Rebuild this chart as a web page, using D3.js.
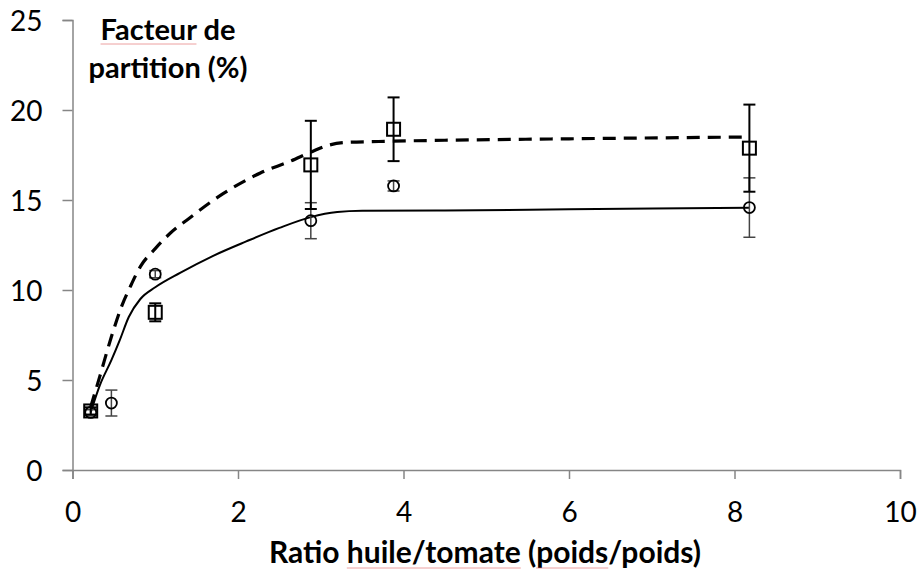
<!DOCTYPE html>
<html>
<head>
<meta charset="utf-8">
<script src="https://cdn.jsdelivr.net/npm/d3@7"></script>
<style>
  body { margin: 0; background: #fff; }
  svg text { font-family: Lato, "Liberation Sans", sans-serif; }
</style>
</head>
<body>
<div id="chart"></div>
<script>
// measured points
const xRatio = [0.22, 0.47, 1.0, 2.88, 3.88, 8.18];
const circleY = [3.2, 3.72, 10.88, 13.85, 15.78, 14.58];
const circleErr = [0.15, 0.72, 0.2, 1.0, 0.28, 1.65];
const squareX = [0.22, 1.0, 2.88, 3.88, 8.18];
const squareY = [3.28, 8.76, 16.95, 18.93, 17.88];
const squareErr = [0.2, 0.5, 2.45, 1.77, 2.42];

// fitted curves
const solidX = [0.22, 0.33, 0.47, 0.57, 0.68, 0.82, 1.0, 1.3, 1.7, 2.1, 2.5, 2.88, 3.2, 3.5, 4.5, 6, 8.18];
const solidY = [3.2, 4.7, 6.1, 7.2, 8.5, 9.5, 10.15, 10.95, 11.9, 12.7, 13.45, 14.05, 14.33, 14.4, 14.42, 14.48, 14.57];
const dashX = [0.22, 0.33, 0.47, 0.59, 0.7, 0.82, 1.0, 1.18, 1.4, 1.82, 2.27, 2.63, 2.9, 3.1, 3.3, 3.7, 4.5, 6, 8.18];
const dashY = [3.5, 5.2, 7.4, 9.05, 10.2, 11.3, 12.3, 13.15, 13.95, 15.35, 16.5, 17.15, 17.7, 18.05, 18.2, 18.25, 18.32, 18.4, 18.5];

const xTicks = [0, 2, 4, 6, 8, 10];
const yTicks = [0, 5, 10, 15, 20, 25];

const width = 920, height = 576;
const svg = d3.select('#chart').append('svg')
    .attr('width', width)
    .attr('height', height);

const x = d3.scaleLinear().domain([0, 10]).range([72.5, 900]);
const y = d3.scaleLinear().domain([0, 25]).range([470, 20]);
const axisColor = '#868686';

// axes
const xAxis = svg.append('g')
    .attr('transform', `translate(0,${y(0)})`)
    .call(d3.axisBottom(x).tickValues(xTicks).tickSize(9).tickPadding(23).tickFormat(d3.format('d')));
const yAxis = svg.append('g')
    .attr('transform', `translate(${x(0)},0)`)
    .call(d3.axisLeft(y).tickValues(yTicks).tickSize(10).tickPadding(20).tickFormat(d3.format('d')));

[xAxis, yAxis].forEach(g => {
    g.select('.domain').attr('stroke', axisColor).attr('stroke-width', 1.5);
    g.selectAll('.tick line').attr('stroke', axisColor).attr('stroke-width', 1.5);
    g.selectAll('.tick text').attr('fill', '#000').style('font-size', '28px');
});
yAxis.selectAll('.tick text').attr('dy', '0.36em');

// fit lines
const line = d3.line().x(d => x(d[0])).y(d => y(d[1])).curve(d3.curveMonotoneX);
svg.append('path')
    .attr('d', line(d3.zip(solidX, solidY)))
    .attr('fill', 'none')
    .attr('stroke', '#000')
    .attr('stroke-width', 2);
svg.append('path')
    .attr('d', line(d3.zip(dashX, dashY)))
    .attr('fill', 'none')
    .attr('stroke', '#000')
    .attr('stroke-width', 3.2)
    .attr('stroke-dasharray', '13,8');

// error bars
function errorBars(xs, ys, es, color, w) {
    const g = svg.append('g').attr('stroke', color).attr('stroke-width', w);
    xs.forEach((xv, i) => {
        const cx = x(xv), top = y(ys[i] + es[i]), bot = y(ys[i] - es[i]);
        g.append('line').attr('x1', cx).attr('x2', cx).attr('y1', top).attr('y2', bot);
        g.append('line').attr('x1', cx - 6).attr('x2', cx + 6).attr('y1', top).attr('y2', top);
        g.append('line').attr('x1', cx - 6).attr('x2', cx + 6).attr('y1', bot).attr('y2', bot);
    });
}
errorBars(xRatio, circleY, circleErr, '#444', 1.5);
errorBars(squareX, squareY, squareErr, '#000', 2);

// markers
svg.append('g').selectAll('circle')
    .data(d3.zip(xRatio, circleY))
    .enter().append('circle')
    .attr('cx', d => x(d[0]))
    .attr('cy', d => y(d[1]))
    .attr('r', 5.5)
    .attr('fill', 'none')
    .attr('stroke', '#000')
    .attr('stroke-width', 1.8);

svg.append('g').selectAll('rect')
    .data(d3.zip(squareX, squareY))
    .enter().append('rect')
    .attr('x', d => x(d[0]) - 6.5)
    .attr('y', d => y(d[1]) - 6.5)
    .attr('width', 13)
    .attr('height', 13)
    .attr('fill', 'none')
    .attr('stroke', '#000')
    .attr('stroke-width', 2);

// titles
const yTitle = svg.append('text')
    .attr('text-anchor', 'middle')
    .style('font-size', '29px')
    .style('font-weight', 'bold');
yTitle.append('tspan').attr('x', 168).attr('y', 40).text('Facteur de');
yTitle.append('tspan').attr('x', 168).attr('y', 78).text('partition (%)');

const xTitle = svg.append('text')
    .attr('x', 485)
    .attr('y', 563)
    .attr('text-anchor', 'middle')
    .style('font-size', '30px')
    .style('font-weight', 'bold')
    .text('Ratio huile/tomate (poids/poids)');

// spell-check underlines
function squiggle(textEl, start, len, baseY) {
    const node = textEl.node();
    const x0 = node.getStartPositionOfChar(start).x;
    const x1 = node.getEndPositionOfChar(start + len - 1).x;
    svg.append('line')
        .attr('x1', x0).attr('x2', x1)
        .attr('y1', baseY).attr('y2', baseY)
        .attr('stroke', '#e06060')
        .attr('stroke-opacity', 0.6)
        .attr('stroke-width', 1);
}
squiggle(yTitle, 0, 7, 44);
squiggle(xTitle, 6, 12, 568);
squiggle(xTitle, 20, 5, 568);
</script>
</body>
</html>
